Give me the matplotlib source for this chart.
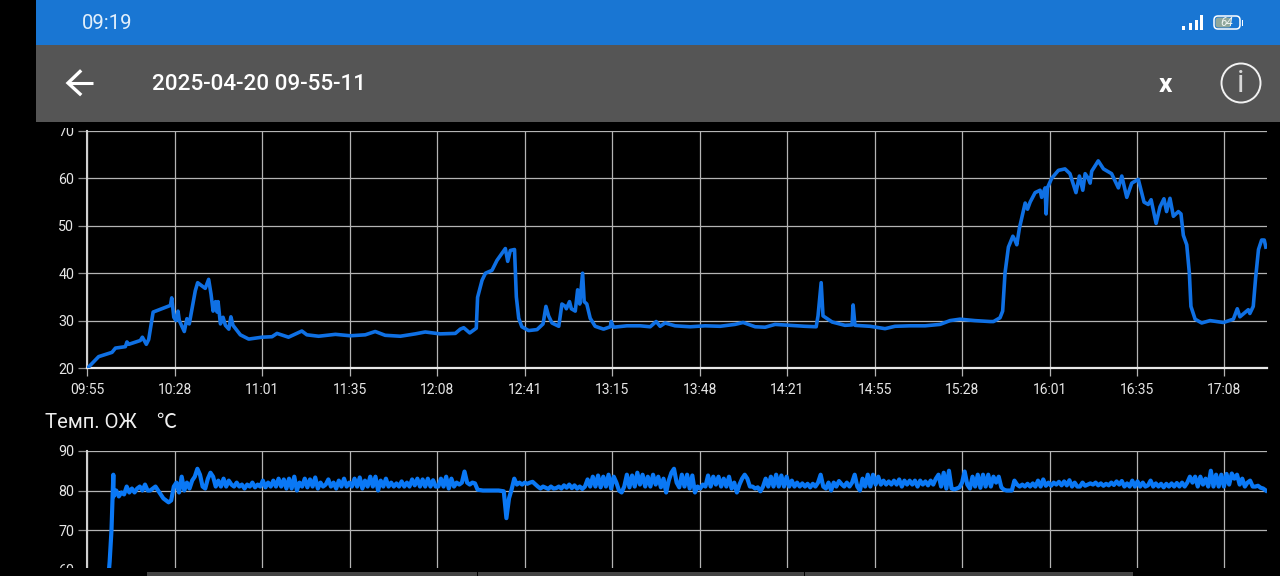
import numpy as np
import matplotlib
matplotlib.use("Agg")
import matplotlib.pyplot as plt
from matplotlib.patches import Rectangle, Circle, FancyBboxPatch

plt.rcParams['font.family'] = ['Roboto', 'Noto Sans CJK SC', 'DejaVu Sans']

# ---------- data ----------
tick_labels = ["09:55", "10:28", "11:01", "11:35", "12:08", "12:41", "13:15",
               "13:48", "14:21", "14:55", "15:28", "16:01", "16:35", "17:08"]
tick_minutes = [0, 33.4, 66.8, 100.2, 133.6, 167, 200.4, 233.8, 267.2, 300.6,
                334, 367.4, 400.8, 434.2]
x_end = 450.6
upper_yticks = [20, 30, 40, 50, 60, 70]
lower_yticks = [60, 70, 80, 90]
screen_title = "2025-04-20 09-55-11"
clock_text = "09:19"
battery_text = "64"
lower_title = "Темп. ОЖ    ℃"

upper_time = [
    0.1, 4.3, 9.4, 10.7, 14.5, 15.1, 15.8, 20.2, 21.0, 22.5, 23.4, 25.1, 31.7, 32.2, 33.0, 33.8,
    34.6, 35.1, 37.0, 38.0, 38.9, 41.2, 42.1, 45.0, 46.3, 47.2, 48.0, 48.9, 49.5, 49.9, 50.8, 51.8,
    52.7, 54.0, 54.8, 55.6, 58.4, 61.6, 66.7, 70.5, 72.4, 76.8, 81.9, 83.8, 88.3, 94.7, 100.4, 106.1,
    109.9, 113.7, 119.5, 125.2, 129, 134.7, 140.5, 142.4, 143.7, 146, 148.5, 149, 150.7, 152, 154.5, 156.4,
    159.6, 160.5, 161.5, 163.1, 163.8, 164.7, 165.9, 168.5, 171.7, 174, 175.1, 176.1, 177.4, 180, 181.2, 182.5,
    182.9, 184.1, 184.8, 186.3, 187.2, 188, 189.1, 189.7, 190.7, 192, 193.9, 197.1, 199.7, 200, 200.9, 206,
    211.1, 214.9, 217.2, 218.7, 220.6, 224.4, 230.2, 235.9, 241.6, 247.3, 250.4, 255, 258.8, 262.6, 268.3, 274,
    278.3, 279, 280.2, 280.9, 284.4, 289.3, 292, 292.4, 293.1, 298.9, 304.6, 308.4, 314.1, 319.9, 325.6, 329.4,
    333.2, 338.9, 344.7, 346, 348.5, 349.5, 350.4, 351.7, 353.4, 354.2, 354.9, 355.9, 358.1, 359, 360, 361.9,
    363.8, 364.4, 365.7, 366.1, 366.6, 368.2, 370.8, 373.3, 375.2, 377.5, 378.8, 380.1, 381, 382.2, 382.9, 383.5,
    386, 388, 391.1, 393.7, 395, 396.9, 398.8, 401.3, 402.6, 403.5, 405.1, 406.2, 408.1, 409.6, 411.1, 412.1,
    413.4, 414.7, 416.6, 417.6, 418.5, 419.8, 420.8, 421.4, 423, 425.5, 428.7, 433.8, 437.6, 439.1, 440.1, 443.3,
    443.9, 445.2, 446.1, 447.2, 448.4, 449.4, 450,
]
upper_value = [
    20, 22.4, 23.3, 24.2, 24.5, 25.5, 25, 25.8, 26.5, 25, 26, 31.8, 33.2, 34.8, 30.7, 30,
    32, 30, 27.7, 30.4, 29.3, 36.3, 38, 36.8, 38.7, 35.6, 32, 34, 31.8, 34, 29.3, 30.7,
    29, 28.2, 30.8, 29, 27, 26.1, 26.5, 26.6, 27.3, 26.5, 27.8, 27, 26.7, 27.1, 26.8, 27,
    27.7, 26.9, 26.7, 27.2, 27.6, 27.2, 27.3, 28.2, 28.5, 27.4, 28.4, 34.9, 38.5, 40, 40.6, 42.7,
    45.2, 42.5, 44.8, 45, 35, 30.5, 28.7, 27.9, 28.1, 29.3, 33, 31, 29.5, 28.8, 33.5, 33,
    32.5, 34, 32.5, 32, 36.5, 33.5, 40, 34, 33.5, 30.5, 28.8, 28.2, 28.7, 29.8, 28.6, 28.9,
    28.9, 28.7, 29.8, 28.8, 29.5, 28.9, 28.7, 28.9, 28.8, 29.2, 29.6, 28.7, 28.6, 29.2, 29, 28.8,
    28.7, 31, 38, 31, 29.7, 29, 29.1, 33.3, 29, 28.8, 28.3, 28.8, 28.9, 28.9, 29.2, 30,
    30.3, 30, 29.8, 29.8, 30.6, 32, 40, 45.5, 47.8, 47, 46, 49.5, 54.8, 53.5, 55, 57,
    57.5, 56, 58, 52.5, 58, 60, 61.7, 62, 61, 57, 60.5, 57.5, 61, 60, 59, 61.5,
    63.7, 62, 61, 58, 60.5, 56, 59, 59.8, 57, 55, 54.5, 55.5, 50.5, 54, 55.7, 53,
    55.8, 52, 53, 52.5, 48, 46, 40, 33, 30.3, 29.5, 30, 29.6, 30.3, 32.5, 30.8, 32.3,
    31.5, 33, 39, 45, 47, 47, 45.5,
]

coolant_rise_time = [8, 8.5, 9.2, 9.9]
coolant_rise = [58, 62, 70, 84]
coolant_minutes = np.arange(10, 451)
coolant_value = [
    78.5, 80, 78.5, 79.5, 79, 81, 79.5, 80.5, 79.5, 80.5, 81, 80, 81.5, 80, 80, 80.5, 81, 80, 79, 78, 77.5, 77, 77.5, 81,
    82, 79.5, 83.5, 80, 82, 80.5, 82.5, 83.5, 85.5, 84, 81, 80.5, 83, 84.5, 83.5, 81, 82.5, 81, 83, 81, 82.5, 81.5, 81, 82, 81, 81.5, 80.5, 81.5, 81, 82, 80.8, 81.5, 81, 82.5,
    80.8, 82, 81, 82.5, 81, 83, 81, 82.8, 80.5, 83, 80.5, 83.5, 80, 82, 81, 83, 80.8, 82.8, 81, 83.3, 80.5, 82, 81, 81.5, 82.8, 81, 82, 80.5, 82.5, 81, 83, 81, 82,
    81, 83, 81, 83.3, 80.5, 82.5, 81, 83.5, 81, 83.5, 80, 82.5, 81, 83, 81, 82, 81, 81.8, 81, 82.3, 81, 82, 81, 82.8, 81.3, 83, 81, 82.8, 81, 83, 81, 82.6, 81,
    81, 83, 81, 83.5, 80.5, 83, 81, 82, 81.5, 82, 84.8, 82, 81.5, 82, 81.8,
    80.2, 80.1, 80, 80, 80, 80, 80, 80, 80, 79.9, 79.8,
    73, 78, 80.3, 83, 81.5, 82,
    81.5, 82, 81.7, 82, 82.2, 81.6,
    81, 80.5, 81, 80.7, 80.4, 81, 80.5, 80.6, 81, 80.5, 81.3, 80.7, 81.5, 80.6, 81.3, 80.5, 81, 80.4,
    81, 82.8, 81, 83.5, 81, 83.8, 80.8, 83.5, 81, 84, 80.5, 83.5, 82, 80, 79.5, 81, 84, 80.8, 83.8, 81, 84.5, 81.5, 84, 81, 83.5, 81, 84, 81.5, 83.5, 80.8, 83, 79.5, 82.5,
    84.5, 85.5, 82, 80.8, 84, 81, 84, 80.5, 83.8, 79.5, 81, 80.5, 81.5, 81, 83.8, 81, 83.5, 81.5, 83.5, 81, 83, 81, 83.5, 80.5, 82, 79.5, 81.5, 83, 84, 83, 81, 81, 80.5,
    80.8, 79.8, 81, 83, 81, 83.5, 81, 84, 81, 83.8, 81, 83.5, 81, 82.5, 81, 82, 81, 81.8, 81, 81.7, 80.8, 81.7, 81, 82, 84, 81, 80.5, 82, 80, 82, 81, 82.4, 81.6,
    81, 82, 81, 82, 84, 81, 80, 83, 81, 84, 81, 84, 81.5, 83.5, 81.5, 82.5, 81.5, 82.3, 81.5, 82.5, 81.5, 82.8, 81, 82.5, 81.5, 82.5, 81.5, 82.5, 81, 82.5, 81.5, 82.3, 81.3,
    82.5, 81.5, 83, 84, 81, 84.5, 80.5, 85, 80.5, 80.3, 80.5, 80.8, 82, 84.8, 81.5, 80.5, 83.5, 81, 84, 80.7, 84, 81, 84, 81, 83.5, 82, 83.5, 80.8, 80.2, 80, 80, 80, 82.5,
    81.5, 81, 81.5, 81, 81.7, 81, 81.8, 81, 82.5, 81, 82.8, 81.2, 82, 81.2, 82, 81.5, 82.2, 81.3, 82.3, 81.3, 82.6, 81, 82, 81, 81, 82, 81.2, 81.5, 81.8, 81.5, 82, 81.3, 81.8,
    81.2, 81.7, 81.3, 82, 81.4, 82.3, 81.5, 82.4, 81, 81.8, 81, 82.5, 81, 82.3, 81, 82, 81, 81.3, 82.5, 81, 81.8, 81, 81.7, 80.8, 81.7, 81, 81.8, 81, 81.9, 81, 82, 81, 82,
    83.5, 82, 83.5, 81, 83.5, 81.5, 83, 81, 85, 81, 84, 81, 84, 81, 84.2, 81.5, 84.3, 83, 84, 81.5, 83, 81, 82, 82.5, 81, 81, 81.2, 80.7, 80.5, 80,
]

# ---------- figure ----------
W, H = 1280, 576
fig = plt.figure(figsize=(W / 100, H / 100), dpi=100, facecolor="black")


def axes_px(x0, x1, ytop, ybot):
    return fig.add_axes([x0 / W, 1 - ybot / H, (x1 - x0) / W, (ybot - ytop) / H])


GRID = "#b4b4b4"
TXT = "#e6e6e6"


def style(ax, yticks, ylim):
    ax.set_facecolor("black")
    ax.set_xlim(0, x_end)
    ax.set_ylim(*ylim)
    ax.set_yticks(yticks)
    ax.set_xticks(tick_minutes)
    ax.grid(True, color=GRID, lw=0.9, zorder=1)
    for s in ("top", "right", "bottom"):
        ax.spines[s].set_visible(False)
    ax.spines["left"].set_color("#d0d0d0")
    ax.spines["left"].set_linewidth(1.5)
    ax.tick_params(axis="y", length=6.5, width=0.9, color="#909090", labelcolor=TXT,
                   labelsize=10.3, pad=3)
    ax.tick_params(axis="x", length=6, width=0.9, color=GRID, labelcolor=TXT,
                   labelsize=10, pad=5)
    ax.set_axisbelow(True)


ax1 = axes_px(87.4, 1267.4, 131, 368)
style(ax1, upper_yticks, (20, 70))
ax1.set_xticklabels(tick_labels)
ax1.spines["bottom"].set_visible(True)
ax1.spines["bottom"].set_color("#e8e8e8")
ax1.spines["bottom"].set_linewidth(1.6)
ax1.plot(upper_time, upper_value, color="#0f70e4", lw=2.6, solid_joinstyle="round", zorder=3)

ax2 = axes_px(87.4, 1267.4, 451, 569.5)
style(ax2, lower_yticks, (60, 90))
ax2.tick_params(axis="x", length=0, labelbottom=False)
ax2.plot(coolant_rise_time + list(coolant_minutes), coolant_rise + coolant_value,
         color="#0a78f5", lw=3.0, solid_joinstyle="round", zorder=3)

# ---------- app chrome overlay ----------
ov = fig.add_axes([0, 0, 1, 1], zorder=10)
ov.set_xlim(0, W)
ov.set_ylim(H, 0)
ov.axis("off")
ov.patch.set_alpha(0)

ov.add_patch(Rectangle((0, 0), 36, 128, color="black", lw=0))
ov.add_patch(Rectangle((36, 122), W - 36, 6, color="black", lw=0))
ov.add_patch(Rectangle((36, 0), W - 36, 44.5, color="#1976d3", lw=0))
ov.add_patch(Rectangle((36, 44.5), W - 36, 77.5, color="#555555", lw=0))
ov.add_patch(Rectangle((0, 568), W, 8, color="black", lw=0))

ov.text(81.5, 23.5, clock_text, color="#e3f0fb", fontsize=14.6, va="center", ha="left")
ov.text(151.5, 85, screen_title, color="white", fontsize=16.2, fontweight="medium",
        va="center", ha="left")
ov.text(1165, 84.5, "x", color="white", fontsize=19, fontweight="bold", va="center", ha="center")
ov.text(45, 423, lower_title, color="#eeeeee", fontsize=14.6, va="center", ha="left")

# back arrow
ov.plot([68, 93], [83, 83], color="white", lw=2.2, solid_capstyle="butt")
ov.plot([80, 68, 80], [71.5, 83, 94], color="white", lw=2.4, solid_joinstyle="miter")

# info icon
ov.add_patch(Circle((1241, 83), 19.5, fill=False, ec="#f2f2f2", lw=1.4))
ov.text(1241, 83.5, "i", color="#d8d8d8", fontsize=22, va="center", ha="center")

# signal bars
for x0, top in zip((1182, 1188.5, 1194.5, 1200), (26, 23, 20, 15)):
    ov.add_patch(Rectangle((x0, top), 3.2, 30 - top, color="white", lw=0))

# battery
ov.add_patch(FancyBboxPatch((1214, 16), 26, 13, boxstyle="round,pad=0,rounding_size=4",
                            fc="#1976d3", ec="white", lw=1.1))
ov.add_patch(FancyBboxPatch((1215.5, 17.5), 15.5, 10, boxstyle="round,pad=0,rounding_size=2.5",
                            fc="#8fa79c", ec="none"))
ov.add_patch(Rectangle((1241.5, 19.5), 1.5, 6, color="white", lw=0))
ov.text(1227, 23, battery_text, color="#eef3f0", fontsize=8.5, style="italic", va="center", ha="center")

# bottom scroll bar segments
for x0, x1 in ((147, 476.5), (477.5, 803.5), (804.5, 1133)):
    ov.add_patch(Rectangle((x0, 571.5), x1 - x0, 5, color="#444444", lw=0))

fig.savefig("out.png", dpi=100, facecolor="black")
